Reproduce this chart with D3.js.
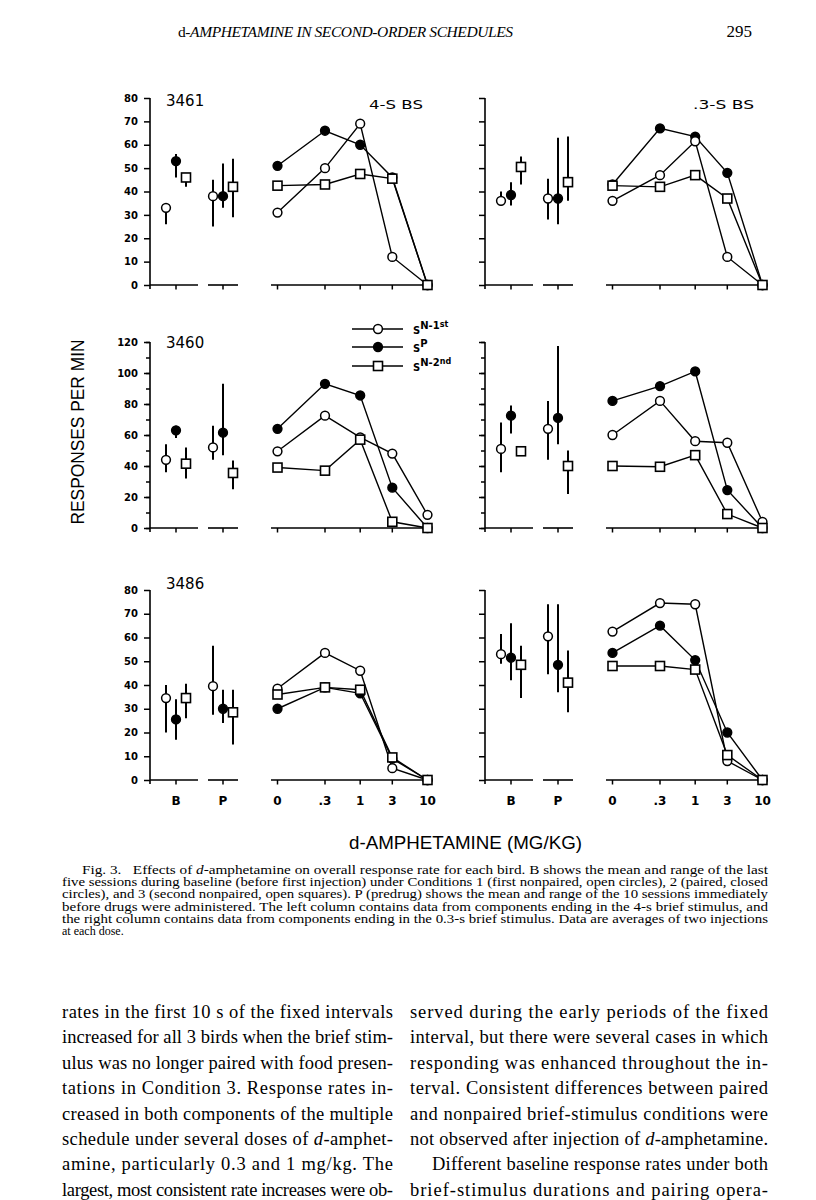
<!DOCTYPE html>
<html>
<head>
<meta charset="utf-8">
<script src="https://cdn.jsdelivr.net/npm/d3@7"></script>
<style>
  body { margin: 0; background: #fff; }
</style>
</head>
<body>
<script>
// values (responses per min)
const birds = ["3461", "3460", "3486"];
const panelTitles = ["4-S BS", ".3-S BS"];
const phases = ["B", "P"];
const doses = [0, 0.3, 1, 3, 10];
const doseLabels = ["0", ".3", "1", "3", "10"];
const seriesNames = ["SN-1st", "SP", "SN-2nd"];

// dose curves: [SN-1st, SP, SN-2nd] over doses
// baseline (B) and predrug (P): per series [mean, low, high]
const dose3461_4s = [[31, 50, 69, 12, 0], [51, 66, 60, 46, 0], [42.5, 43, 47.5, 45.5, 0]];
const base3461_4s = [[33, 26, 34], [53, 46, 56], [46, 42, 47]];
const pre3461_4s = [[38, 25, 45], [38, 33, 52], [42, 29, 54]];

const dose3461_03s = [[36, 47, 61.5, 12, 0], [43, 67, 63.5, 48, 0], [42.5, 42, 47, 37, 0]];
const base3461_03s = [[36, 34, 40], [38.5, 34, 44], [50.5, 43, 55]];
const pre3461_03s = [[37, 28, 45.5], [37, 26, 63], [44, 36, 63.5]];

const dose3460_4s = [[49.5, 72.5, 58.5, 48, 8.5], [64, 93, 85.5, 26, 0], [39, 37, 57, 4, 0]];
const base3460_4s = [[44, 36, 54], [63, 58, 66], [41.5, 32, 52]];
const pre3460_4s = [[52, 44, 66], [61.5, 47, 93], [35.5, 25, 43.5]];

const dose3460_03s = [[60, 82, 56, 55, 4], [82, 91.5, 101, 24.5, 0], [40, 39.5, 47, 9, 0]];
const base3460_03s = [[51, 36, 68], [72.5, 61, 79], [49.5, 48, 51]];
const pre3460_03s = [[64, 44, 82], [71, 54, 117.5], [40, 22, 50]];

const dose3486_4s = [[38.5, 53.5, 46, 5, 0], [30, 39, 36.5, 9, 0], [36, 39, 38, 9.5, 0]];
const base3486_4s = [[34.5, 20, 40], [25.5, 17, 34], [34.5, 26, 40.5]];
const pre3486_4s = [[39.5, 27.5, 56.5], [30, 24, 38], [28.5, 15, 38]];

const dose3486_03s = [[62.5, 74.5, 74, 8, 0], [53.5, 65, 50.5, 20, 0], [48, 48, 46.5, 10.5, 0]];
const base3486_03s = [[53, 49, 61.5], [51.5, 42, 66], [48.5, 34.5, 56.5]];
const pre3486_03s = [[60.5, 44.5, 74], [48.5, 37, 74], [41, 28.5, 54.5]];

const yMax = [80, 120, 80];

const captionLines = [
  "Fig. 3.   Effects of |d|-amphetamine on overall response rate for each bird. B shows the mean and range of the last",
  "five sessions during baseline (before first injection) under Conditions 1 (first nonpaired, open circles), 2 (paired, closed",
  "circles), and 3 (second nonpaired, open squares). P (predrug) shows the mean and range of the 10 sessions immediately",
  "before drugs were administered. The left column contains data from components ending in the 4-s brief stimulus, and",
  "the right column contains data from components ending in the 0.3-s brief stimulus. Data are averages of two injections",
  "at each dose."
];
const leftColumn = [
  "rates in the first 10 s of the fixed intervals",
  "increased for all 3 birds when the brief stim-",
  "ulus was no longer paired with food presen-",
  "tations in Condition 3. Response rates in-",
  "creased in both components of the multiple",
  "schedule under several doses of |d|-amphet-",
  "amine, particularly 0.3 and 1 mg/kg. The",
  "largest, most consistent rate increases were ob-"
];
const rightColumn = [
  "served during the early periods of the fixed",
  "interval, but there were several cases in which",
  "responding was enhanced throughout the in-",
  "terval. Consistent differences between paired",
  "and nonpaired brief-stimulus conditions were",
  "not observed after injection of |d|-amphetamine.",
  "Different baseline response rates under both",
  "brief-stimulus durations and pairing opera-"
];

const panels = [
  [0, 0, dose3461_4s, base3461_4s, pre3461_4s],
  [0, 1, dose3461_03s, base3461_03s, pre3461_03s],
  [1, 0, dose3460_4s, base3460_4s, pre3460_4s],
  [1, 1, dose3460_03s, base3460_03s, pre3460_03s],
  [2, 0, dose3486_4s, base3486_4s, pre3486_4s],
  [2, 1, dose3486_03s, base3486_03s, pre3486_03s]
];

// layout
const rowY0 = [285, 528, 780];
const rowTop = [98, 342, 590];
const birdLabelY = [106, 348, 589];
const colX = [150, 485];
const offsets = [-10, 0, 10];   // side by side points in B and P

var svg = d3.select("body").append("svg")
    .attr("width", 816)
    .attr("height", 1200)
    .style("font-family", "DejaVu Sans, sans-serif");

// header
svg.append("text")
    .attr("x", 178).attr("y", 37)
    .attr("textLength", 335)
    .style("font-family", "Liberation Serif, serif")
    .style("font-size", "15.5px")
    .call(function(t) {
      t.append("tspan").text("d-");
      t.append("tspan").style("font-style", "italic").text("AMPHETAMINE IN SECOND-ORDER SCHEDULES");
    });
svg.append("text")
    .attr("x", 752).attr("y", 37)
    .attr("text-anchor", "end")
    .style("font-family", "Liberation Serif, serif")
    .style("font-size", "17px")
    .text("295");

function marker(sel, s, cx, cy) {
  if (s == 2) {
    sel.append("rect")
        .attr("x", cx - 4.5).attr("y", cy - 4.5)
        .attr("width", 9).attr("height", 9)
        .attr("fill", "#fff").attr("stroke", "#000").attr("stroke-width", 1.6);
  } else {
    sel.append("circle")
        .attr("cx", cx).attr("cy", cy).attr("r", 4.4)
        .attr("fill", s == 1 ? "#000" : "#fff")
        .attr("stroke", "#000").attr("stroke-width", 1.5);
  }
}

function drawPanel(row, col, dose, base, pre) {
  var x0 = colX[col];
  var y = d3.scaleLinear().domain([0, yMax[row]]).range([rowY0[row], rowTop[row]]);
  var xPhase = d3.scalePoint().domain(phases).range([x0 + 26, x0 + 73]);
  var xLog = d3.scaleLog().domain([0.3, 10]).range([x0 + 175, x0 + 277.5]);
  var xDose = function(d) { return d === 0 ? x0 + 127.5 : xLog(d); };

  var g = svg.append("g");

  // y axis
  var ax = g.append("g").attr("transform", "translate(" + x0 + ",0)");
  if (row == 1) {
    ax.append("g").call(d3.axisLeft(y).tickValues(d3.range(0, 121, 10)).tickSize(4).tickFormat(""));
  }
  var step = row == 1 ? 20 : 10;
  ax.append("g").call(d3.axisLeft(y)
      .tickValues(d3.range(0, yMax[row] + 1, step))
      .tickSize(6).tickPadding(6)
      .tickFormat(col == 0 ? d3.format("d") : ""));
  ax.selectAll(".domain").remove();
  ax.selectAll("line").attr("stroke", "#000").attr("stroke-width", 1.5);
  ax.selectAll("text")
      .style("font-family", "DejaVu Sans, sans-serif")
      .style("font-weight", "bold")
      .style("font-size", "10px")
      .attr("fill", "#000");
  ax.append("line")
      .attr("y1", y(yMax[row])).attr("y2", y(0) + 4)
      .attr("stroke", "#000").attr("stroke-width", 1.6);

  // x axis pieces
  var y0 = y(0);
  var segs = [[x0, x0 + 48], [x0 + 58, x0 + 88], [x0 + 121, xDose(10)]];
  segs.forEach(function(s) {
    g.append("line").attr("x1", s[0]).attr("x2", s[1])
        .attr("y1", y0).attr("y2", y0)
        .attr("stroke", "#000").attr("stroke-width", 1.6);
  });
  var tickXs = phases.map(function(p) { return xPhase(p); }).concat(doses.map(xDose));
  g.selectAll(".xt").data(tickXs).enter().append("line")
      .attr("x1", function(d) { return d; }).attr("x2", function(d) { return d; })
      .attr("y1", y0).attr("y2", y0 + 4.5)
      .attr("stroke", "#000").attr("stroke-width", 1.5);

  if (row == 2) {
    var labs = phases.map(function(p) { return [xPhase(p), p]; })
        .concat(doses.map(function(d, i) { return [xDose(d), doseLabels[i]]; }));
    g.selectAll(".xl").data(labs).enter().append("text")
        .attr("x", function(d) { return d[0]; })
        .attr("y", y0 + 25)
        .attr("text-anchor", "middle")
        .style("font-size", "12px")
        .style("font-weight", "bold")
        .text(function(d) { return d[1]; });
  }

  // baseline and predrug ranges
  [base, pre].forEach(function(vals, pi) {
    vals.forEach(function(v, s) {
      var cx = xPhase(phases[pi]) + offsets[s];
      g.append("line").attr("x1", cx).attr("x2", cx)
          .attr("y1", y(v[1])).attr("y2", y(v[2]))
          .attr("stroke", "#000").attr("stroke-width", 2);
    });
  });
  [1, 0, 2].forEach(function(s) {
    marker(g, s, xPhase("B") + offsets[s], y(base[s][0]));
    marker(g, s, xPhase("P") + offsets[s], y(pre[s][0]));
  });

  // dose-response lines
  var line = d3.line()
      .x(function(d, i) { return xDose(doses[i]); })
      .y(function(d) { return y(d); });
  dose.forEach(function(vals) {
    g.append("path").attr("d", line(vals))
        .attr("fill", "none").attr("stroke", "#000").attr("stroke-width", 1.4);
  });
  [1, 0, 2].forEach(function(s) {
    dose[s].forEach(function(v, i) { marker(g, s, xDose(doses[i]), y(v)); });
  });

  if (col == 0) {
    g.append("text").attr("x", x0 + 16).attr("y", birdLabelY[row])
        .style("font-size", "15px")
        .text(birds[row]);
  }
  if (row == 0) {
    g.append("text").attr("x", x0 + (col == 0 ? 219 : 208)).attr("y", 109)
        .attr("textLength", col == 0 ? 54 : 61)
        .attr("lengthAdjust", "spacingAndGlyphs")
        .style("font-size", "13px")
        .text(panelTitles[col]);
  }
}

panels.forEach(function(p) { drawPanel(p[0], p[1], p[2], p[3], p[4]); });

// legend
var legY = [329, 347, 366];
seriesNames.forEach(function(name, s) {
  svg.append("line").attr("x1", 352).attr("x2", 403)
      .attr("y1", legY[s]).attr("y2", legY[s])
      .attr("stroke", "#000").attr("stroke-width", 1.5);
  marker(svg, s, 378, legY[s]);
  var t = svg.append("text").attr("x", 413).attr("y", legY[s] + 5)
      .style("font-size", "10px").style("font-weight", "bold");
  t.append("tspan").text("S");
  if (s == 1) {
    t.append("tspan").attr("dy", -5).text("P");
  } else {
    t.append("tspan").attr("dy", -5).text(s == 0 ? "N-1" : "N-2");
    t.append("tspan").attr("dy", -2).style("font-size", "8px").text(s == 0 ? "st" : "nd");
  }
});

// axis titles
svg.append("text")
    .attr("transform", "translate(84,432) rotate(-90)")
    .attr("text-anchor", "middle")
    .attr("textLength", 185)
    .attr("lengthAdjust", "spacingAndGlyphs")
    .style("font-family", "Liberation Sans, Arial, sans-serif")
    .style("font-size", "19px")
    .text("RESPONSES PER MIN");

svg.append("text")
    .attr("x", 349).attr("y", 849)
    .attr("textLength", 233)
    .attr("lengthAdjust", "spacingAndGlyphs")
    .style("font-family", "Liberation Sans, Arial, sans-serif")
    .style("font-size", "19px")
    .text("d-AMPHETAMINE (MG/KG)");

// text with an italic "d" marked by |d|
function richLine(x, yy, str, size, width, adjust) {
  var t = svg.append("text").attr("x", x).attr("y", yy)
      .style("font-family", "Liberation Serif, serif")
      .style("font-size", size + "px")
      .attr("xml:space", "preserve");
  if (width) t.attr("textLength", width).attr("lengthAdjust", adjust || "spacing");
  str.split("|").forEach(function(part, i) {
    t.append("tspan").style("font-style", i % 2 ? "italic" : "normal").text(part);
  });
}

captionLines.forEach(function(l, i) {
  var x = i == 0 ? 82 : 62;
  richLine(x, 874 + i * 12.2, l, 12, i < captionLines.length - 1 ? 768 - x : null, "spacingAndGlyphs");
});

leftColumn.forEach(function(l, i) {
  richLine(62, 1018 + i * 25.4, l, 18.5, 331);
});
rightColumn.forEach(function(l, i) {
  var x = i == 6 ? 432 : 410;
  richLine(x, 1018 + i * 25.4, l, 18.5, 768 - x);
});
</script>
</body>
</html>
